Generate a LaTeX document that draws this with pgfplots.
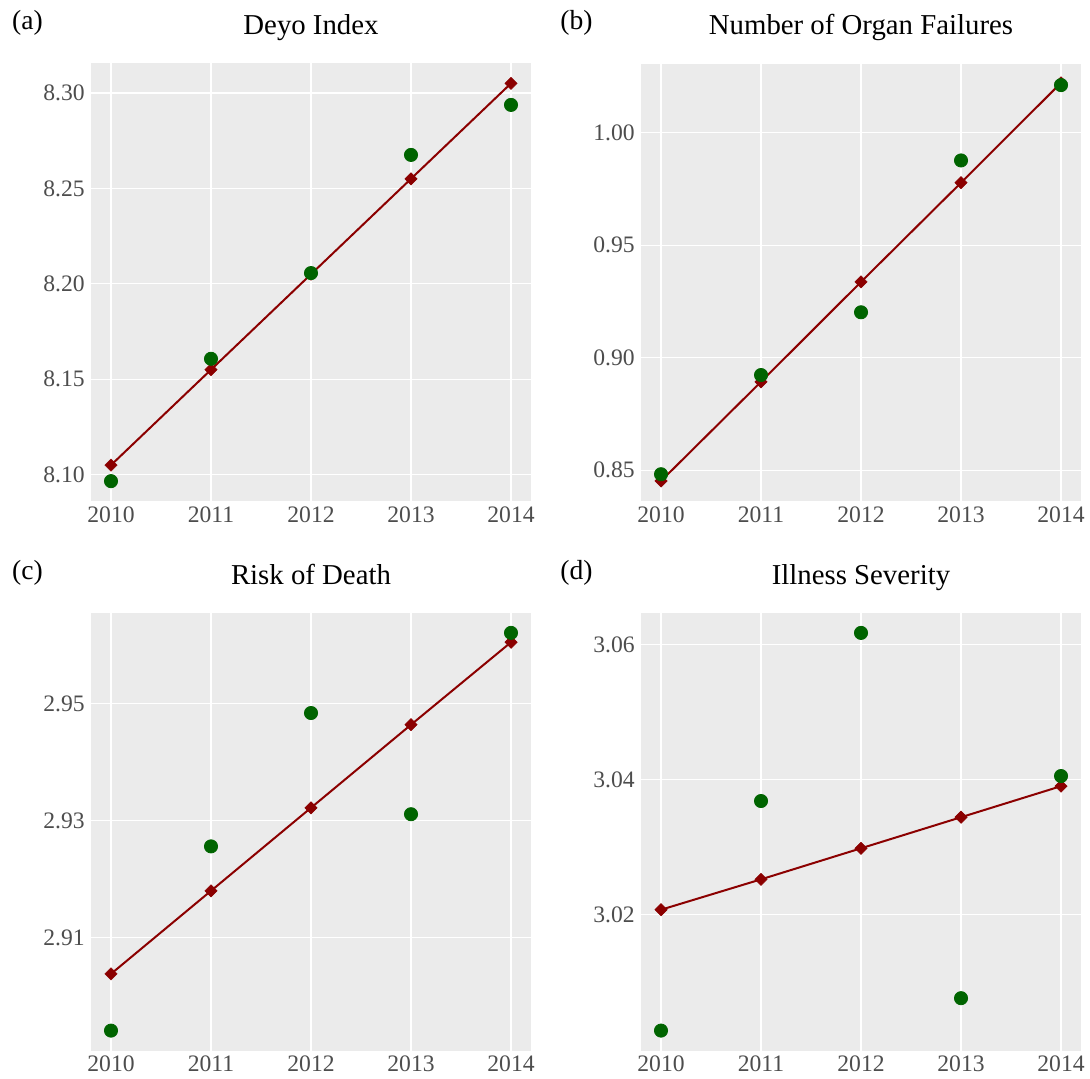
\documentclass[border=0pt]{standalone}
\usepackage{fontspec}
\setmainfont{Liberation Serif}
\usepackage{pgfplots}
\pgfplotsset{compat=1.18}
\definecolor{panelbg}{RGB}{235,235,235}
\definecolor{tickgray}{RGB}{77,77,77}
\definecolor{ptgreen}{RGB}{0,100,0}
\definecolor{lnred}{RGB}{139,0,0}
\pgfplotsset{
  gg/.style={
    scale only axis,
    width=220pt, height=218.75pt,
    anchor=south west,
    xmin=2009.8, xmax=2014.2,
    xtick={2010,2011,2012,2013,2014},
    xticklabels={2010,2011,2012,2013,2014},
    axis background/.style={fill=panelbg},
    axis line style={draw=none},
    major tick length=0pt,
    grid=major,
    major grid style={white, line width=0.65pt},
    tick label style={font=\fontsize{11.8}{13}\selectfont, text=tickgray, inner sep=0pt},
    /pgf/number format/assume math mode=true,
    y tick label style={/pgf/number format/.cd, fixed, fixed zerofill, precision=2, /tikz/.cd},
    xticklabel shift=2.5pt, yticklabel shift=3pt,
    title style={at={(0.5,1)}, anchor=base, yshift=8.3pt, font=\fontsize{14.4}{16}\selectfont, inner sep=0pt},
    clip=false,
  },
  reddia/.style={only marks, mark=square*, mark size=2.15pt, mark options={rotate=45, fill=lnred, draw=lnred, line width=0.3pt}},
  redline/.style={no markers, draw=lnred, line width=1pt},
  greenpt/.style={only marks, mark=*, mark size=3.3pt, mark options={fill=ptgreen, draw=ptgreen, line width=0.4pt}},
}
\begin{document}
\begin{tikzpicture}
\useasboundingbox (0,0) rectangle (545pt,539pt);
% (a)
\begin{axis}[gg, at={(45.5pt,288.5pt)}, title={Deyo Index},
  ymin=8.0862, ymax=8.3154, ytick={8.10,8.15,8.20,8.25,8.30}]
\addplot[reddia] coordinates {(2010,8.105) (2011,8.155) (2012,8.205) (2013,8.255) (2014,8.305)};
\addplot[greenpt] coordinates {(2010,8.0966) (2011,8.1607) (2012,8.2056) (2013,8.2675) (2014,8.2937)};
\addplot[redline] coordinates {(2010,8.105) (2011,8.155) (2012,8.205) (2013,8.255) (2014,8.305)};
\end{axis}
% (b)
\begin{axis}[gg, at={(320.5pt,288.5pt)}, title={Number of Organ Failures},
  ymin=0.8363, ymax=1.0308, ytick={0.85,0.90,0.95,1.00}]
\addplot[reddia] coordinates {(2010,0.8452) (2011,0.8893) (2012,0.9337) (2013,0.9778) (2014,1.0222)};
\addplot[greenpt] coordinates {(2010,0.8482) (2011,0.8923) (2012,0.9202) (2013,0.9877) (2014,1.0212)};
\addplot[redline] coordinates {(2010,0.8452) (2011,0.8893) (2012,0.9337) (2013,0.9778) (2014,1.0222)};
\end{axis}
% (c)
\begin{axis}[gg, at={(45.5pt,13.75pt)}, title={Risk of Death},
  ymin=2.8907, ymax=2.9655, ytick={2.91,2.93,2.95}]
\addplot[reddia] coordinates {(2010,2.9038) (2011,2.9180) (2012,2.9322) (2013,2.9464) (2014,2.9605)};
\addplot[greenpt] coordinates {(2010,2.8941) (2011,2.9256) (2012,2.9484) (2013,2.9311) (2014,2.9621)};
\addplot[redline] coordinates {(2010,2.9038) (2011,2.9180) (2012,2.9322) (2013,2.9464) (2014,2.9605)};
\end{axis}
% (d)
\begin{axis}[gg, at={(320.5pt,13.75pt)}, title={Illness Severity},
  ymin=2.99985, ymax=3.06465, ytick={3.02,3.04,3.06}]
\addplot[reddia] coordinates {(2010,3.0207) (2011,3.0252) (2012,3.0298) (2013,3.0344) (2014,3.0390)};
\addplot[greenpt] coordinates {(2010,3.0028) (2011,3.0368) (2012,3.0617) (2013,3.0076) (2014,3.0405)};
\addplot[redline] coordinates {(2010,3.0207) (2011,3.0252) (2012,3.0298) (2013,3.0344) (2014,3.0390)};
\end{axis}
% panel labels
\node[anchor=base west, inner sep=0pt, font=\fontsize{13.8}{15}\selectfont] at (5.85pt,524.25pt) {(a)};
\node[anchor=base west, inner sep=0pt, font=\fontsize{13.8}{15}\selectfont] at (280pt,524.25pt) {(b)};
\node[anchor=base west, inner sep=0pt, font=\fontsize{13.8}{15}\selectfont] at (5.85pt,249.5pt) {(c)};
\node[anchor=base west, inner sep=0pt, font=\fontsize{13.8}{15}\selectfont] at (280pt,249.5pt) {(d)};
\end{tikzpicture}
\end{document}
